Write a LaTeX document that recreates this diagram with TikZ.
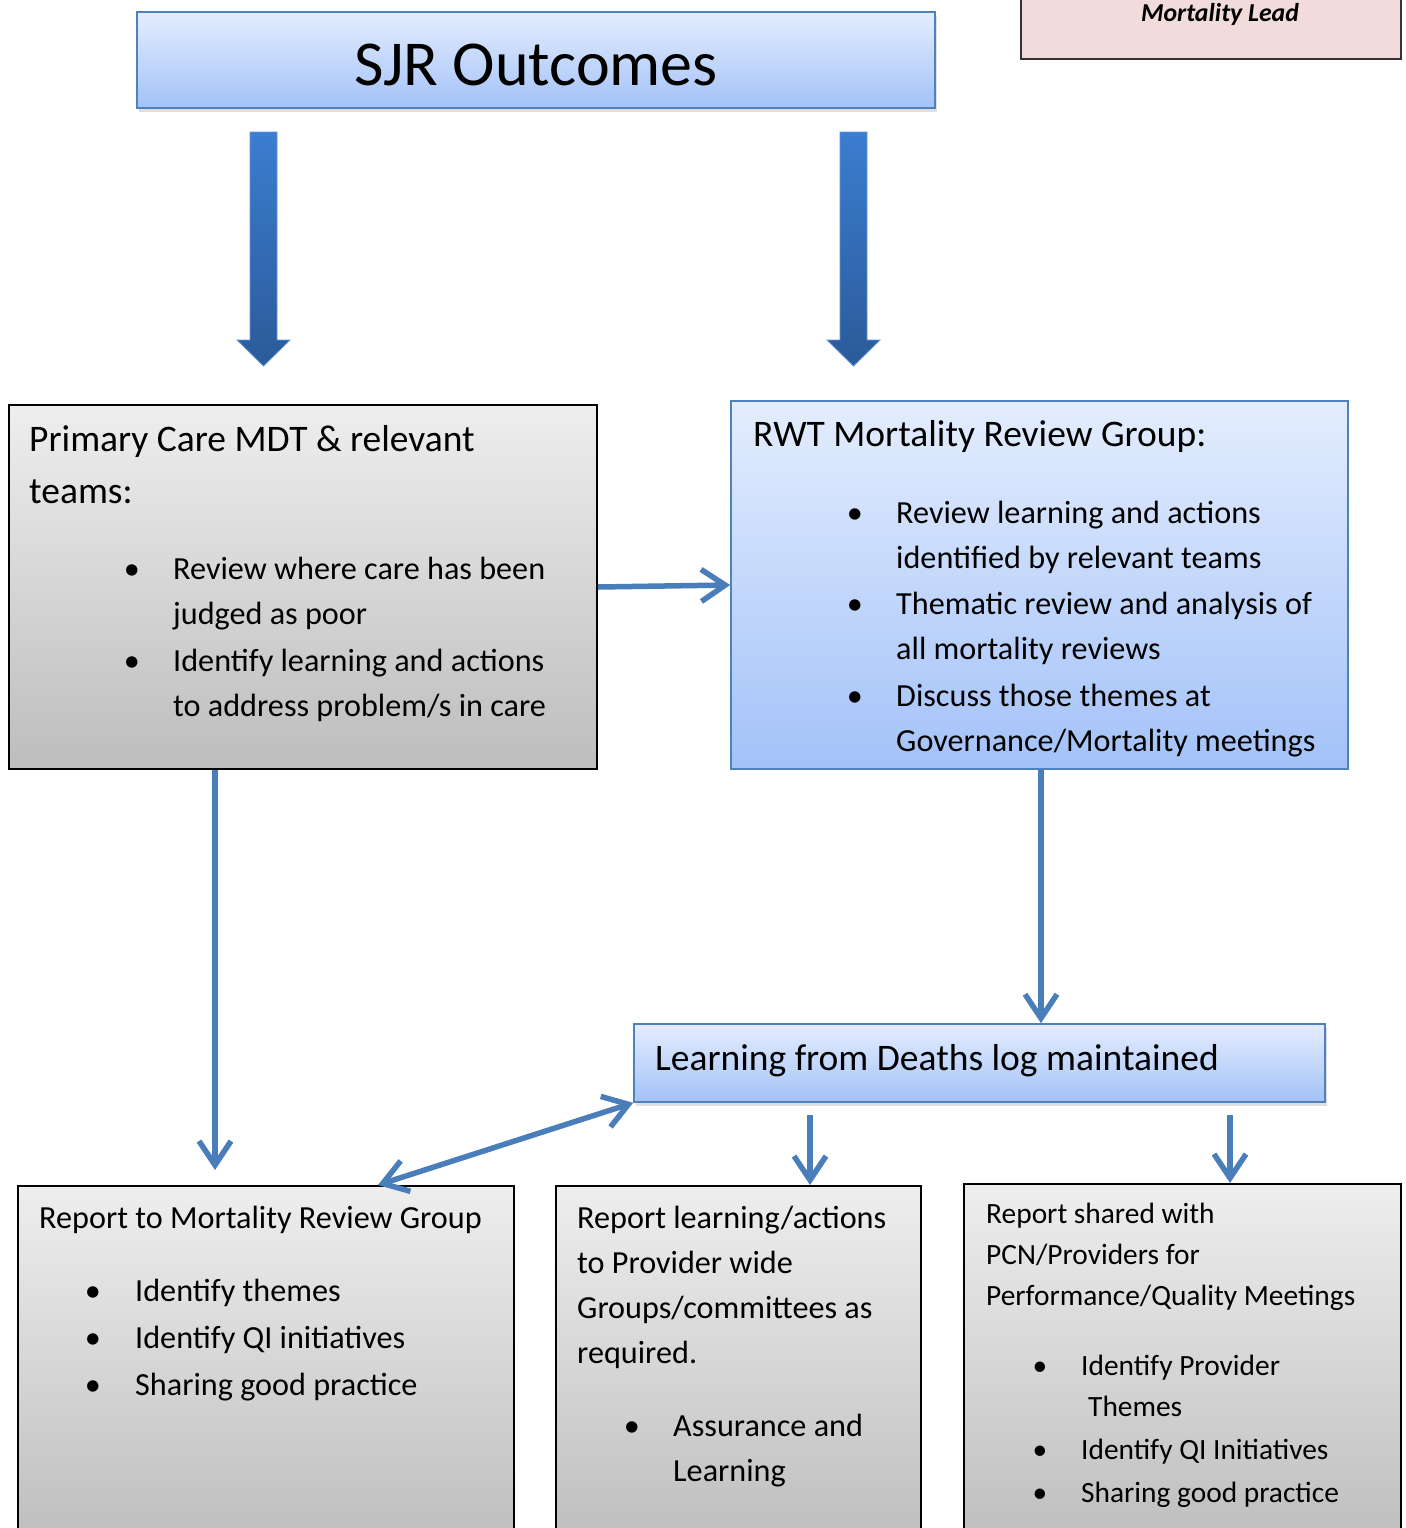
\documentclass[tikz,border=0pt]{standalone}
\usepackage{fontspec}
\setmainfont{Carlito}
\usetikzlibrary{arrows.meta,shadows}
\definecolor{blueTop}{HTML}{E4EDFE}
\definecolor{blueBot}{HTML}{A3C2F8}
\definecolor{boxblue}{HTML}{4F81BD}
\definecolor{grayTop}{HTML}{EEEEEE}
\definecolor{grayBot}{HTML}{BDBDBD}
\definecolor{pinkfill}{HTML}{F2DCDB}
\definecolor{arrowblue}{HTML}{4A7EBB}
\definecolor{bigTop}{HTML}{3B7DD0}
\definecolor{bigBot}{HTML}{2B5A99}
\newcommand\fTitle{\fontsize{64}{70}\selectfont}
\newcommand\fHead{\fontsize{37.5}{44}\selectfont}
\newcommand\fBody{\fontsize{32.2}{38}\selectfont}
\newcommand\fSmall{\fontsize{29.4}{34}\selectfont}
\newcommand\fLead{\fontsize{25.8}{30}\selectfont\bfseries\itshape}
\tikzset{
  bluebox/.style={rectangle, draw=boxblue, line width=1.6pt, top color=blueTop, bottom color=blueBot, inner sep=0pt},
  graybox/.style={rectangle, draw=black, line width=2pt, top color=grayTop, bottom color=grayBot, inner sep=0pt},
  leadbox/.style={rectangle, draw=black!80, line width=2pt, fill=pinkfill, inner sep=0pt},
  shad/.style={drop shadow={opacity=0.25, shadow xshift=2pt, shadow yshift=-4pt}},
  txt/.style={anchor=base west, inner sep=0pt},
  bul/.style={anchor=base, inner sep=0pt},
  conn/.style={draw=arrowblue, line width=5.5pt, -{Straight Barb[length=24pt,width=32pt]}},
  conn2/.style={draw=arrowblue, line width=5.5pt, {Straight Barb[length=24pt,width=32pt]}-{Straight Barb[length=24pt,width=32pt]}},
  bigarrow/.style={top color=bigTop, bottom color=bigBot, draw=bigTop!80!white, line width=0.8pt},
}
\begin{document}
\begin{tikzpicture}[x=1pt,y=-1pt]
\useasboundingbox (0,0) rectangle (1405,1528);
\clip (0,0) rectangle (1405,1528);
\fill[white] (0,0) rectangle (1405,1528);

% boxes
\node[bluebox, shad, minimum width=798pt, minimum height=96pt] (title) at (536,60) {};
\node[leadbox, minimum width=380pt, minimum height=80pt] (lead) at (1211,19) {};
\node[graybox, minimum width=588pt, minimum height=364pt] (pc) at (303,587) {};
\node[bluebox, minimum width=617pt, minimum height=368pt] (rwt) at (1039.5,585) {};
\node[bluebox, shad, minimum width=691pt, minimum height=78pt] (learn) at (979.5,1063) {};
\node[graybox, minimum width=496pt, minimum height=364pt] (bl) at (266,1368) {};
\node[graybox, minimum width=365pt, minimum height=364pt] (bm) at (738.5,1368) {};
\node[graybox, minimum width=437pt, minimum height=366pt] (br) at (1182.5,1367) {};

% big block arrows
\shade[bigarrow] (250,132) -- (277,132) -- (277,340) -- (290,340) -- (263.5,366) -- (237,340) -- (250,340) -- cycle;
\shade[bigarrow] (840,132) -- (867,132) -- (867,340) -- (880,340) -- (853.5,366) -- (827,340) -- (840,340) -- cycle;

% texts
\node[anchor=base, inner sep=0pt] (tTitle) at (536,85) {\fTitle SJR Outcomes};
\node[anchor=base, inner sep=0pt] (tLead) at (1220,22) {\fLead Mortality Lead};

\node[txt] (p1) at (29,451) {\fHead Primary Care MDT \& relevant};
\node[txt] (p2) at (29,503) {\fHead teams:};
\node[bul] (pb1) at (132,579) {\fBody •};
\node[txt] (p3) at (173,579) {\fBody Review where care has been};
\node[txt] (p4) at (173,624) {\fBody judged as poor};
\node[bul] (pb2) at (132,671) {\fBody •};
\node[txt] (p5) at (173,671) {\fBody Identify learning and actions};
\node[txt] (p6) at (173,716) {\fBody to address problem/s in care};

\node[txt] (r1) at (753,446) {\fHead RWT Mortality Review Group:};
\node[bul] (rb1) at (855,523) {\fBody •};
\node[txt] (r2) at (896,523) {\fBody Review learning and actions};
\node[txt] (r3) at (896,568) {\fBody identified by relevant teams};
\node[bul] (rb2) at (855,614) {\fBody •};
\node[txt] (r4) at (896,614) {\fBody Thematic review and analysis of};
\node[txt] (r5) at (896,659) {\fBody all mortality reviews};
\node[bul] (rb3) at (855,706) {\fBody •};
\node[txt] (r6) at (896,706) {\fBody Discuss those themes at};
\node[txt] (r7) at (896,751) {\fBody Governance/Mortality meetings};

\node[txt] (l1) at (655,1070) {\fHead Learning from Deaths log maintained};

\node[txt] (a1) at (39,1228) {\fBody Report to Mortality Review Group};
\node[bul] (ab1) at (93,1301) {\fBody •};
\node[txt] (a2) at (135,1301) {\fBody Identify themes};
\node[bul] (ab2) at (93,1348) {\fBody •};
\node[txt] (a3) at (135,1348) {\fBody Identify QI initiatives};
\node[bul] (ab3) at (93,1395) {\fBody •};
\node[txt] (a4) at (135,1395) {\fBody Sharing good practice};

\node[txt] (m1) at (577,1228) {\fBody Report learning/actions};
\node[txt] (m2) at (577,1273) {\fBody to Provider wide};
\node[txt] (m3) at (577,1318) {\fBody Groups/committees as};
\node[txt] (m4) at (577,1363) {\fBody required.};
\node[bul] (mb1) at (632,1436) {\fBody •};
\node[txt] (m5) at (673,1436) {\fBody Assurance and};
\node[txt] (m6) at (673,1481) {\fBody Learning};

\node[txt] (s1) at (986,1223) {\fSmall Report shared with};
\node[txt] (s2) at (986,1264) {\fSmall PCN/Providers for};
\node[txt] (s3) at (986,1305) {\fSmall Performance/Quality Meetings};
\node[bul] (sb1) at (1040,1375) {\fSmall •};
\node[txt] (s4) at (1081,1375) {\fSmall Identify Provider};
\node[txt] (s5) at (1088,1416) {\fSmall Themes};
\node[bul] (sb2) at (1040,1459) {\fSmall •};
\node[txt] (s6) at (1081,1459) {\fSmall Identify QI Initiatives};
\node[bul] (sb3) at (1040,1502) {\fSmall •};
\node[txt] (s7) at (1081,1502) {\fSmall Sharing good practice};

% connectors
\coordinate (k1) at (215,1170);
\coordinate (k2) at (1041,1022);
\coordinate (k3) at (378,0);
\coordinate (k4) at (810,1115);
\coordinate (k5) at (1230,1115);
\draw[conn] (pc.east) -- (rwt.west);
\draw[conn] (pc.south -| k1) -- (k1);
\draw[conn] (rwt.south -| k2) -- (learn.north -| k2);
\draw[conn2] (bl.north -| k3) -- (learn.south west);
\draw[conn] (k4) -- (bm.north -| k4);
\draw[conn] (k5) -- (br.north -| k5);
\end{tikzpicture}
\end{document}
